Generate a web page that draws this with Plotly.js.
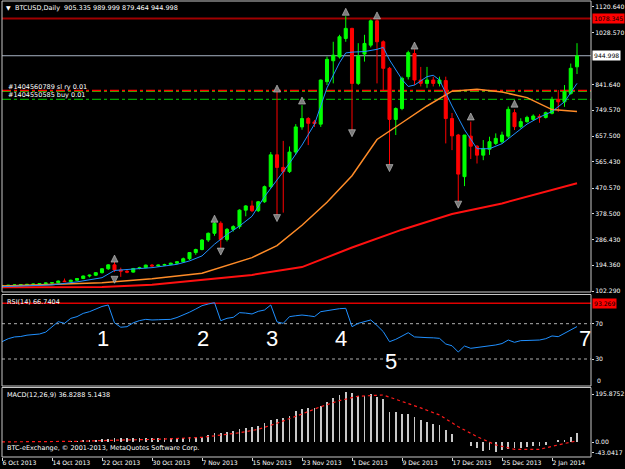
<!DOCTYPE html>
<html><head><meta charset="utf-8">
<script src="https://cdn.plot.ly/plotly-3.0.1.min.js"></script>
<style>html,body{margin:0;padding:0;background:#000;}#chart{width:625px;height:469px;}</style>
</head><body><div id="chart"></div>
<script>
// ---------- DATA (BTCUSD daily, 6 Oct 2013 .. 6 Jan 2014) ----------
const firstDay = [2013, 9, 6];
const openP = [
 121,122,123,124,125,126,127,129,
 131,132,138,136,141,147,156,159,
 168,182,196,178,173,170,183,186,
 195,192,195,197,202,207,218,240,
 251,285,309,345,287,323,333,392,
 407,390,422,476,590,545,530,600,
 690,720,708,700,852,927,941,1007,
 1043,846,951,983,1070,995,900,717,
 756,870,953,858,846,858,846,856,
 720,661,512,657,621,589,610,631,
 637,657,741,691,709,717,728,724,
 739,789,780,810,905.335];
const highP = [
 123,124,125,127,128,129,130,132,
 134,140,147,143,149,158,161,170,
 184,198,207,186,180,185,189,197,
 199,197,200,204,209,222,242,254,
 288,312,360,352,328,338,395,410,
 426,425,480,600,815,640,620,700,
 768,725,715,860,942,995,1020,1087,
 1045,990,1020,1075,1075,1000,905,760,
 870,963,968,905,905,870,870,870,
 740,665,661,709,625,643,655,667,
 673,763,753,721,730,735,736,745,
 798,822,840,917,989.999];
const lowP = [
 119,120,121,122,123,124,125,127,
 129,130,135,134,139,145,151,156,
 165,178,170,153,166,168,180,184,
 190,189,192,195,199,203,213,232,
 248,278,300,255,280,315,325,370,
 385,385,418,470,374,383,525,590,
 680,625,690,690,840,846,935,995,
 673,840,924,975,846,822,547,661,
 750,860,840,835,830,835,835,631,
 607,416,478,575,559,571,590,625,
 630,650,679,685,705,712,705,720,
 735,744,762,805,879.464];
const closeP = [
 122,123,124,125,126,127,129,131,
 132,138,136,141,147,156,159,168,
 182,196,178,173,170,183,186,195,
 192,195,197,202,207,218,240,251,
 285,309,345,287,323,333,392,407,
 390,422,476,590,545,530,600,690,
 720,703,702,858,932,947,1013,1043,
 846,944,989,1070,995,900,717,756,
 864,956,858,846,858,846,858,720,
 658,521,661,621,589,613,637,649,
 661,753,691,709,724,729,724,741,
 789,780,816,900,944.998];

// moving averages, read at sampled bars
const fastMaIdx = [0,4,8,12,16,18,20,24,28,30,32,34,36,38,40,42,44,46,48,50,52,54,55,56,58,60,61,62,64,65,66,68,69,70,72,74,76,78,80,82,84,86,88,90,92];
const fastMaVal = [118,120,124,135,150,176,180,186,198,210,228,270,305,335,370,440,500,560,625,700,830,920,955,958,960,968,975,930,860,835,840,870,875,858,765,680,612,612,630,665,700,725,745,780,846];
const midMaIdx = [0,8,16,24,32,40,44,48,52,56,60,64,68,72,76,80,84,88,92];
const midMaVal = [120,125,132,146,166,222,265,338,420,515,645,705,765,818,825,815,795,752,745];
const slowMaIdx = [0,8,16,24,32,40,48,56,64,72,80,88,92];
const slowMaVal = [116,116,117,125,142,160,188,258,322,378,416,464,488];

// fractals
const upFracIdx = [18,34,44,48,55,60,66,75,82];
const upFracVal = [231,374,840,797,1115,1102,994,740,786];
const dnFracIdx = [18,35,44,56,62,73];
const dnFracVal = [130,231,351,655,530,399];

// RSI(14)
const rsiVal = [
 49.6,53,55,55.5,57,57.5,58.3,60.5,
 66,72.3,70.4,76,78,81.7,83.6,87,
 89.5,91.2,71,66,66.6,71,73.5,74.9,
 74.2,74.5,74.7,74.9,77,79.8,83,86.6,
 90.4,92.3,93.8,73.4,76.1,77.2,82.5,82,
 81,84,85.5,91.2,72,70.4,78,79,
 79.8,79,78,83.6,85,86.3,87,87.4,
 66.6,70.4,72.5,74.2,68,61,49.6,52.3,
 56,59.8,55,54.2,54.2,54,53.4,47,
 45,37.9,44.7,42.1,43,44,45,45.9,
 47.5,51.5,48.9,50.8,51,51.3,51.5,53,
 56.1,55.3,59.1,63,66.74];
const rsiLevels = [30, 70];
const rsiMarkLevel = 93.269;

// MACD(12,26,9)
const macdVal = [
 1,1,1.5,1.5,2,2,2.5,3,
 3,4,4.5,5,6,7,8,10,
 12,14,15,15,15,15,15.5,16,
 16,16,16.5,17,17,18,19,20,
 22,28.7,35.6,38,42,46.5,53,59,
 63,67,76.7,90.4,94.5,97.3,108,127,
 134,138,141,149,165.7,179,193,206.8,
 199.9,189,189,197,186,176.6,124.6,121.9,
 113.6,113.6,101,90.4,80.8,72.6,69.8,49.3,
 31.5,2,-1.4,-15,-26,-35.6,-32.9,-39.7,
 -33,-28.7,-23,-23,-20.5,-17.8,-17.8,-12.3,
 1.4,8.2,8,21.9,36.83];
const signalIdx = [0,12,19,25,32,35,38,41,44,48,51,54,57,61,64,67,70,73,76,79,82,86,89,92];
const signalVal = [0.5,2.7,8,11,19,28.7,38,52,77,115,145,170,188,193,168,140,111,63,22,-12,-30,-30,-12,5.14];

// axis ticks & labels
const dateTickIdx = [0,8,16,24,32,40,48,56,64,72,80,88];
const dateTickText = ['6 Oct 2013','14 Oct 2013','22 Oct 2013','30 Oct 2013','7 Nov 2013','15 Nov 2013','23 Nov 2013','1 Dec 2013','9 Dec 2013','17 Dec 2013','25 Dec 2013','2 Jan 2014'];
const priceTicks = [1120.640,1028.570,841.640,749.570,657.500,565.430,470.570,378.500,286.430,194.360,102.290];
const macdTicks = [195.8752, 0, -43.0417];
const macdTickText = ['195.8752','0.00','-43.0417'];
const resistLevel = 1078.345;
const bidLevel = 944.998;
const slLevel = 820.5, buyLevelA = 817, buyLevelB = 789;
const waveText = ['1','2','3','4','5','7'];
const waveIdx = [16.2,32.1,43.2,54.2,62.2,93.3];
const waveRsi = [52.7,52.7,52.7,52.7,27.7,52.7];

// ---------- helpers ----------
const dayMs = 86400000;
const t0 = Date.UTC(firstDay[0], firstDay[1], firstDay[2]);
function dateAt(i){ return new Date(t0 + i*dayMs).toISOString().slice(0,19).replace('T',' '); }
const dates = closeP.map((_, i) => dateAt(i));

const TOP = 1, BOT = 457, H = BOT - TOP;
const py = p => (BOT - p) / H;
const px = p => (p - 2) / 589;

const F = 'DejaVu Sans';
const fs = 6.5;
const fsAxis = 6.1;
const white = '#ffffff';

const data = [
 {type:'scatter', mode:'lines', x:slowMaIdx.map(dateAt), y:slowMaVal, line:{color:'#ff1010', width:2}, xaxis:'x', yaxis:'y'},
 {type:'scatter', mode:'lines', x:midMaIdx.map(dateAt), y:midMaVal, line:{color:'#ff8c28', width:1.5}, xaxis:'x', yaxis:'y'},
 {type:'candlestick', x:dates, open:openP, high:highP, low:lowP, close:closeP, xaxis:'x', yaxis:'y',
  increasing:{line:{color:'#00ff00', width:1}, fillcolor:'#00ff00'},
  decreasing:{line:{color:'#ff0000', width:1}, fillcolor:'#ff0000'}, whiskerwidth:0},
 {type:'scatter', mode:'lines', x:fastMaIdx.map(dateAt), y:fastMaVal, line:{color:'#2090ff', width:1}, xaxis:'x', yaxis:'y'},
 {type:'scatter', mode:'markers', x:upFracIdx.map(dateAt), y:upFracVal, marker:{symbol:'arrow-up', size:7, color:'#7a7a7a', line:{color:'#c8c8c8', width:0.6}}, xaxis:'x', yaxis:'y'},
 {type:'scatter', mode:'markers', x:dnFracIdx.map(dateAt), y:dnFracVal, marker:{symbol:'arrow-down', size:7, color:'#7a7a7a', line:{color:'#c8c8c8', width:0.6}}, xaxis:'x', yaxis:'y'},
 {type:'scatter', mode:'lines', x:dates, y:rsiVal, line:{color:'#2090ff', width:1}, xaxis:'x', yaxis:'y2'},
 {type:'bar', x:dates, y:macdVal, width:0.26*dayMs, marker:{color:'#c8c8c8', line:{width:0}}, xaxis:'x', yaxis:'y3'},
 {type:'scatter', mode:'lines', x:signalIdx.map(dateAt), y:signalVal, line:{color:'#ff1a1a', width:1.2, dash:'dot'}, xaxis:'x', yaxis:'y3'}
];

const hline = (yref, y, color, width, dash, layer) => ({type:'line', xref:'paper', x0:0, x1:1, yref:yref, y0:y, y1:y, line:{color:color, width:width, dash:dash||'solid'}, layer:layer||'below'});
const frame = (a, b) => ({type:'rect', xref:'paper', yref:'paper', x0:0, x1:1, y0:py(b), y1:py(a), line:{color:'#c8c8c8', width:1}, layer:'above'});

const shapes = [
 hline('y', resistLevel, '#a00000', 2),
 hline('y', bidLevel, '#a8b4c4', 1),
 hline('y', buyLevelA, '#00d000', 1, 'dashdot'),
 hline('y', slLevel, '#ff0000', 1.6, 'dashdot'),
 hline('y', buyLevelB, '#00d000', 1, 'dashdot'),
 hline('y2', rsiMarkLevel, '#e00000', 1.5),
 hline('y2', rsiLevels[0], '#b0b0b0', 1, 'dot'),
 hline('y2', rsiLevels[1], '#b0b0b0', 1, 'dot'),
 frame(TOP, 292), frame(294.5, 386), frame(387.5, BOT)
];

const txt = (x, y, text, opt) => Object.assign({xref:'paper', yref:'paper', x:x, y:y, text:text, showarrow:false, xanchor:'left', yanchor:'middle', font:{family:F, size:fs, color:white}}, opt||{});

const annotations = [
 txt(px(3.5), py(8), '▼', {font:{family:F, size:6, color:white}}),
 txt(px(13), py(8), 'BTCUSD,Daily  905.335 989.999 879.464 944.998'),
 txt(px(5), py(302), 'RSI(14) 66.7404'),
 txt(px(5), py(395), 'MACD(12,26,9) 36.8288 5.1438'),
 txt(px(5), py(448), 'BTC-eExchange, © 2001-2013, MetaQuotes Software Corp.'),
 txt(px(6), py(86.5), '#1404560789 sl ry 0.01'),
 txt(px(6), py(95), '#1404550585 buy 0.01'),
 {xref:'paper', yref:'y', x:1, y:resistLevel, text:'1078.345', showarrow:false, xanchor:'left', yanchor:'middle', xshift:1, bgcolor:'#ff0000', borderpad:1, font:{family:F, size:fsAxis, color:'#000000'}},
 {xref:'paper', yref:'y', x:1, y:bidLevel, text:'944.998', showarrow:false, xanchor:'left', yanchor:'middle', xshift:1, bgcolor:'#ffffff', borderpad:1, font:{family:F, size:fsAxis, color:'#000000'}},
 {xref:'paper', yref:'y2', x:1, y:rsiMarkLevel, text:'93.269', showarrow:false, xanchor:'left', yanchor:'middle', xshift:1, bgcolor:'#ff0000', borderpad:1, font:{family:F, size:fsAxis, color:'#000000'}},
 {xref:'paper', yref:'y2', x:1, y:0, text:'0', showarrow:false, xanchor:'left', yanchor:'bottom', xshift:4, font:{family:F, size:fsAxis, color:white}}
];
waveText.forEach((t, k) => annotations.push({xref:'x', yref:'y2', x:dateAt(waveIdx[k]), y:waveRsi[k], text:t, showarrow:false, xanchor:'center', yanchor:'middle', font:{family:'Liberation Sans', size:22, color:white}}));

const yCommon = {side:'right', anchor:'x', showgrid:false, zeroline:false, showline:false, ticks:'outside', ticklen:2, tickcolor:'#d8d8d8', tickfont:{family:F, size:fsAxis, color:white}, fixedrange:true};

const layout = {
 width:625, height:469, margin:{l:2, r:34, t:TOP, b:469-BOT},
 paper_bgcolor:'#000', plot_bgcolor:'#000', showlegend:false, hovermode:false,
 xaxis:{type:'date', anchor:'y3', range:[dateAt(0), dateAt(94.24)], rangeslider:{visible:false},
   tickvals:dateTickIdx.map(dateAt), ticktext:dateTickText, tickangle:0, ticks:'outside', ticklen:3, tickcolor:'#d8d8d8',
   ticklabelposition:'outside right', tickfont:{family:F, size:fsAxis, color:white}, showgrid:false, zeroline:false, showline:false, fixedrange:true, automargin:false},
 yaxis:Object.assign({}, yCommon, {domain:[py(292), py(TOP)], range:[98.78, 1141.06], tickvals:priceTicks, ticktext:priceTicks.map(v=>v.toFixed(3))}),
 yaxis2:Object.assign({}, yCommon, {domain:[py(386), py(294.5)], range:[-0.57, 103.06], tickvals:rsiLevels, ticktext:rsiLevels.map(String)}),
 yaxis3:Object.assign({}, yCommon, {domain:[py(BOT), py(387.5)], range:[-61.6, 223.8], tickvals:macdTicks, ticktext:macdTickText}),
 bargap:0,
 shapes:shapes, annotations:annotations
};

Plotly.newPlot('chart', data, layout, {staticPlot:true, displayModeBar:false});
</script>
</body></html>
